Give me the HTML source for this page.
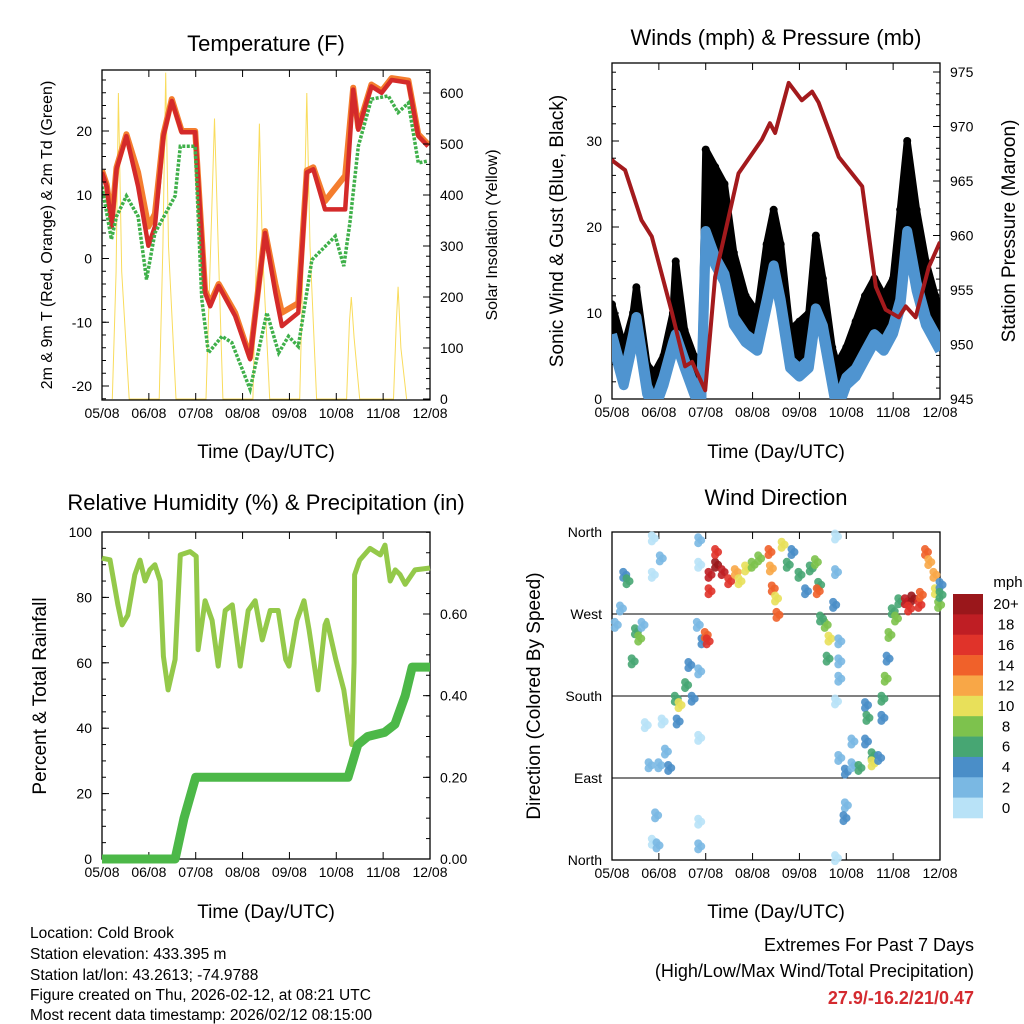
<!DOCTYPE html>
<html><head><meta charset="utf-8"><style>
body{margin:0;background:#fff;}
svg{display:block;font-family:"Liberation Sans",Arial,sans-serif;}
</style></head><body>
<svg id="s" width="1024" height="1024" viewBox="0 0 1024 1024" xmlns="http://www.w3.org/2000/svg">
<defs>
<clipPath id="c1"><rect x="102" y="70" width="328" height="330"/></clipPath>
<clipPath id="c2"><rect x="612" y="63" width="328" height="336"/></clipPath>
<clipPath id="c3"><rect x="102" y="532" width="328" height="327"/></clipPath>
</defs>
<rect width="1024" height="1024" fill="#fff"/>
<g id="p1"></g>
<g id="p2"></g>
<g id="p3"></g>
<g id="p4"></g>
<g font-size="15.5" fill="#000">
<text x="30" y="938">Location: Cold Brook</text>
<text x="30" y="959">Station elevation: 433.395 m</text>
<text x="30" y="980">Station lat/lon: 43.2613; -74.9788</text>
<text x="30" y="1000">Figure created on Thu, 2026-02-12, at 08:21 UTC</text>
<text x="30" y="1020">Most recent data timestamp: 2026/02/12 08:15:00</text>
</g>
<g text-anchor="end">
<text x="974" y="951" font-size="18">Extremes For Past 7 Days</text>
<text x="974" y="977" font-size="18">(High/Low/Max Wind/Total Precipitation)</text>
<text x="974" y="1004" font-size="18" font-weight="bold" fill="#d42a2f">27.9/-16.2/21/0.47</text>
</g>
</svg>
<script>
// ---------- DATA ----------
const dayLabels=["05/08","06/08","07/08","08/08","09/08","10/08","11/08","12/08"];
const tempT=[0,0.1,0.21,0.31,0.52,0.77,0.99,1.13,1.31,1.49,1.7,1.99,2.2,2.31,2.49,2.84,3.16,3.48,3.7,3.84,4.19,4.37,4.51,4.76,5.19,5.36,5.47,5.75,5.97,6.18,6.54,6.75,6.96];
const tempRed=[13.5,11.3,5,14,19.2,11.3,2,5,19.2,24.7,19.8,19.8,-5.4,-7.5,-4.3,-9,-15.8,4,-5.4,-10.6,-8.5,13.5,14,7.7,7.7,26.5,20.2,27,26,28,27.6,19.2,17.6];
const tempOrange=[13.8,11.6,6,14.3,19.5,13.5,5,7,19.5,25,20,20,-5,-7,-4,-8.5,-15.5,4.3,-4,-8.5,-7,13.8,14.3,9,13,26.8,20.5,27.3,26.3,28.3,27.9,19.5,17.9];
const dewT=[0,0.2,0.31,0.52,0.77,0.95,1.13,1.56,1.67,1.99,2.13,2.27,2.56,2.77,3.16,3.52,3.77,3.98,4.19,4.48,4.98,5.16,5.29,5.47,5.75,6.11,6.32,6.54,6.75,6.96];
const dewVal=[11.3,3,6.6,9.8,6.6,-3.3,4,9.8,17.6,17.6,-6.4,-14.8,-12.2,-13.2,-20.5,-8.5,-14.8,-12.2,-13.8,-0.2,3.5,-1.2,5.6,17.6,25,25.5,22.9,24.4,15,15.3];
const solarT=[0.22,0.3,0.35,0.42,0.58, 1.22,1.3,1.36,1.42,1.58, 2.22,2.32,2.4,2.48,2.58, 3.22,3.3,3.36,3.42,3.58, 4.22,4.3,4.37,4.44,4.58, 5.22,5.28,5.32,5.38,5.5, 6.22,6.28,6.32,6.38,6.5];
const solarV=[0,250,600,250,0, 0,300,640,300,0, 0,300,550,300,0, 0,300,540,300,0, 0,300,600,300,0, 0,150,200,120,0, 0,150,220,100,0];
const windT=[0,0.25,0.45,0.52,0.75,0.9,1.1,1.3,1.36,1.55,1.75,1.9,2.0,2.2,2.4,2.6,2.85,3.1,3.3,3.45,3.6,3.8,4.0,4.2,4.35,4.5,4.7,4.8,5.0,5.2,5.4,5.6,5.8,6.0,6.15,6.3,6.5,6.7,6.9,7.0];
const windSpd=[8,3,8,10,2,0,3,7,8,5,2,0,20,17,15,10,8,7,12,16,12,5,4,5,11,9,3,0,3,4,6,8,7,9,12,20,14,10,8,7];
const gustSpd=[11,6,10,13,4,3,5,10,16,8,5,1,29,27,25,17,12,10,18,22,18,8,9,10,19,14,6,4,6,9,12,14,12,14,22,30,22,16,12,10];
const presT=[0,0.03,0.28,0.63,0.85,1.28,1.56,1.71,1.99,2.2,2.7,3.2,3.37,3.48,3.77,4.05,4.27,4.41,4.84,5.34,5.63,5.84,6.12,6.27,6.48,6.76,7.0];
const presVal=[967,966.8,966,961.4,959.9,952.9,948,948.4,945.8,956.2,965.7,968.8,970.3,969.4,974,972.4,973.2,972.2,967.2,964.5,955.3,953.2,952.5,953.5,952.5,957.1,959.4];
const rhT=[0,0.17,0.34,0.43,0.55,0.7,0.81,0.92,1.02,1.13,1.24,1.31,1.41,1.56,1.67,1.88,2.01,2.05,2.2,2.35,2.48,2.63,2.78,2.95,3.12,3.27,3.42,3.59,3.76,3.92,3.99,4.16,4.31,4.42,4.61,4.76,4.8,4.99,5.16,5.33,5.38,5.39,5.5,5.72,5.94,6.04,6.15,6.26,6.36,6.47,6.68,7.0];
const rhVal=[92,91.5,77.7,71.6,74.6,86.9,91.4,85,88.4,90,85,62,51.7,61,93,94,92.6,64,79,73,59,76,77.7,59,76,79,67,76,76,61,59,73,79,70,51.7,71.6,73,61,51.7,35,60,86.9,91.4,95,93,96,85,88.4,87,84,88.4,89];
const rainT=[0,1.56,1.75,2.0,5.25,5.33,5.46,5.67,6.03,6.25,6.47,6.62,7.0];
const rainVal=[0,0,0.1,0.2,0.2,0.23,0.28,0.3,0.31,0.33,0.4,0.47,0.47];
const dirT=[0.06,0.17,0.24,0.31,0.49,0.56,0.42,0.63,0.85,1.02,0.85,0.78,0.99,1.2,0.92,0.85,0.95,0.7,1.06,1.13,1.34,1.42,1.56,1.7,1.63,1.84,1.38,1.91,1.98,2.02,1.81,1.84,1.84,1.84,1.84,1.84,2.06,2.2,2.34,2.48,2.06,2.2,2.62,2.7,2.84,2.98,3.12,3.34,3.37,3.41,3.48,3.51,3.62,3.73,3.83,3.98,4.12,4.22,4.33,4.4,4.37,4.76,4.76,4.72,4.54,4.62,4.58,4.44,4.83,4.83,4.83,4.76,4.83,4.97,5.11,5.26,4.97,4.94,5.11,4.76,5.4,5.43,5.4,5.54,5.54,5.68,5.75,5.75,5.82,5.86,5.9,5.97,6.11,6.04,6.25,6.39,6.54,6.32,6.57,6.68,6.75,6.86,6.89,6.96,6.99,6.99];
const dirDeg=[258,276,313,306,251,243,218,258,353,331,313,104,104,101,49,20,16,148,152,119,177,170,192,177,214,207,152,240,247,240,258,351,324,42,15,134,313,324,316,306,295,338,316,306,320,324,331,338,320,298,287,269,346,324,338,313,295,320,327,302,295,355,316,280,258,243,221,265,240,218,199,174,112,97,104,101,60,46,130,2,170,156,130,115,106,112,156,177,199,221,247,273,284,265,284,287,280,276,291,338,327,313,295,280,302,291];
const dirSpd=[3,3,4,6,7,8,7,3,1,2,1,2,3,5,2,1,2,1,1,3,7,10,6,4,5,3,4,4,14,17,2,3,1,1,2,1,18,20,18,17,17,16,12,10,11,9,8,14,13,15,10,14,10,7,5,6,5,6,8,7,15,1,2,4,9,10,7,7,2,2,2,1,2,4,3,7,2,4,2,1,5,7,4,7,10,4,4,7,9,4,8,7,7,8,18,20,16,17,14,14,12,13,10,8,5,7];
const cbColors=["#9a171b","#bf1e24","#e0332a","#f0612a","#f8a747","#e8e05a","#7dc24d","#47a673","#4a8ec8","#7ab8e3","#b8e2f7"];
const cbLabels=["20+","18","16","14","12","10","8","6","4","2","0"];

// ---------- HELPERS ----------
const NS="http://www.w3.org/2000/svg";
function mk(parent,tag,attrs,txt){const e=document.createElementNS(NS,tag);for(const k in attrs)e.setAttribute(k,attrs[k]);if(txt!==undefined)e.textContent=txt;parent.appendChild(e);return e;}
function lin(d0,d1,r0,r1){return v=>r0+(v-d0)/(d1-d0)*(r1-r0);}
function pts(xs,ys,fx,fy){return xs.map((t,i)=>fx(t).toFixed(1)+","+fy(ys[i]).toFixed(1)).join(" ");}

function frame(g,L,R,T,B,fx,yTicks,fy,yLabels,rTicks,fr,rLabels,minorL,minorR,grid){
  if(grid){yTicks.forEach(v=>{const l=mk(g,"line",{x1:L,x2:R,y1:fy(v),y2:fy(v),stroke:"#000","stroke-width":1});
  
  });}
  const ax=mk(g,"rect",{x:L,y:T,width:R-L,height:B-T,fill:"none",stroke:"#000","stroke-width":1.3});
  
  
  dayLabels.forEach((lab,i)=>{const x=fx(i);
    mk(g,"line",{x1:x,x2:x,y1:B,y2:B-7,stroke:"#000"});mk(g,"line",{x1:x,x2:x,y1:T,y2:T+7,stroke:"#000"});
    const t=mk(g,"text",{x:x,y:B+18,"font-size":14,"text-anchor":"middle"},lab);
    
    });
  yTicks.forEach((v,i)=>{const y=fy(v);mk(g,"line",{x1:L,x2:L+7,y1:y,y2:y,stroke:"#000"});
    const t=mk(g,"text",{x:L-10,y:y+5,"font-size":14,"text-anchor":"end"},yLabels[i]);
    
    });
  minorL.forEach(v=>mk(g,"line",{x1:L,x2:L+4,y1:fy(v),y2:fy(v),stroke:"#000"}));
  if(rTicks){rTicks.forEach((v,i)=>{const y=fr(v);mk(g,"line",{x1:R,x2:R-7,y1:y,y2:y,stroke:"#000"});
    const t=mk(g,"text",{x:R+10,y:y+5,"font-size":14},rLabels[i]);
    
    });
    minorR.forEach(v=>mk(g,"line",{x1:R,x2:R-4,y1:fr(v),y2:fr(v),stroke:"#000"}));}
}
function txt(g,x,y,s,size,name,rot){const t=mk(g,"text",{x:x,y:y,"font-size":size,"text-anchor":"middle"},s);
  if(rot)t.setAttribute("transform","rotate(-90 "+x+" "+y+")");
  
  return t;}
function range(a,b,s){const r=[];for(let v=a;v<=b+1e-9;v+=s)r.push(+v.toFixed(3));return r;}

// ---------- PANEL 1 ----------
(function(){const g=document.getElementById("p1");const L=102,R=430,T=70,B=400;
  const fx=lin(0,7,L,R),fy=lin(-20,20,386,131),fs=lin(0,600,399,93);
  const cg=mk(g,"g",{"clip-path":"url(#c1)"});
  mk(cg,"polyline",{points:pts(solarT,solarV,fx,fs),fill:"none",stroke:"#f9dc5c","stroke-width":1});
  frame(g,L,R,T,B,fx,[-20,-10,0,10,20],fy,["-20","-10","0","10","20"],[0,100,200,300,400,500,600],fs,["0","100","200","300","400","500","600"],range(-22,28,2),range(0,640,20),null,true);
  const o=mk(cg,"polyline",{points:pts(tempT,tempOrange,fx,fy),fill:"none",stroke:"#f47d2e","stroke-width":6,"stroke-linejoin":"round"});
  
  
  const r=mk(cg,"polyline",{points:pts(tempT,tempRed,fx,fy),fill:"none",stroke:"#d42a2a","stroke-width":4.5,"stroke-linejoin":"round"});
  
  
  const d=mk(cg,"polyline",{points:pts(dewT,dewVal,fx,fy),fill:"none",stroke:"#3fb04a","stroke-width":3.5,"stroke-dasharray":"3 1.5"});
  
  
  txt(g,266,51,"Temperature (F)",22,"temperature-title");
  txt(g,266,458,"Time (Day/UTC)",19,"x-axis-title");
  txt(g,52,235,"2m & 9m T (Red, Orange) & 2m Td (Green)",16,"y-axis-title",true);
  txt(g,497,235,"Solar Insolation (Yellow)",16,"right-axis-title",true);
})();

// ---------- PANEL 2 ----------
(function(){const g=document.getElementById("p2");const L=612,R=940,T=63,B=399;
  const fx=lin(0,7,L,R),fy=lin(0,30,399,141),fp=lin(945,975,399,72);
  frame(g,L,R,T,B,fx,[0,10,20,30],fy,["0","10","20","30"],[945,950,955,960,965,970,975],fp,["945","950","955","960","965","970","975"],range(0,38,2),range(945,975,1),null,true);
  const cg=mk(g,"g",{"clip-path":"url(#c2)"});
  const top=windT.map((t,i)=>fx(t).toFixed(1)+","+fy(gustSpd[i]).toFixed(1));
  const bot=windT.map((t,i)=>fx(t).toFixed(1)+","+fy(windSpd[i]).toFixed(1)).reverse();
  const gb=mk(cg,"polygon",{points:top.concat(bot).join(" "),fill:"#000",stroke:"#000","stroke-width":7,"stroke-linejoin":"round"});
  
  
  windT.forEach((t,i)=>{const c=mk(cg,"circle",{cx:fx(t),cy:fy(gustSpd[i]),r:4,fill:"#000"});
    
    });
  const w=mk(cg,"polyline",{points:pts(windT,windSpd,fx,fy),fill:"none",stroke:"#4f94d0","stroke-width":10,"stroke-linejoin":"round",transform:"translate(0,12)"});
  
  
  const w2=mk(cg,"polyline",{points:pts(windT,windSpd,fx,fy),fill:"none",stroke:"#4f94d0","stroke-width":10,"stroke-linejoin":"round",transform:"translate(0,4)"});
  
  
  const p=mk(cg,"polyline",{points:pts(presT,presVal,fx,fp),fill:"none",stroke:"#a31a1d","stroke-width":4,"stroke-linejoin":"round"});
  
  
  txt(g,776,45,"Winds (mph) & Pressure (mb)",22,"winds-title");
  txt(g,776,458,"Time (Day/UTC)",19,"x-axis-title");
  txt(g,563,231,"Sonic Wind & Gust (Blue, Black)",19,"y-axis-title",true);
  txt(g,1015,231,"Station Pressure (Maroon)",19,"right-axis-title",true);
})();

// ---------- PANEL 3 ----------
(function(){const g=document.getElementById("p3");const L=102,R=430,T=532,B=859;
  const fx=lin(0,7,L,R),fy=lin(0,100,859,532),fr=lin(0,0.6,859,614);
  frame(g,L,R,T,B,fx,[0,20,40,60,80,100],fy,["0","20","40","60","80","100"],[0,0.2,0.4,0.6],fr,["0.00","0.20","0.40","0.60"],range(0,100,5),range(0,0.8,0.05),null,true);
  const rh=mk(g,"polyline",{points:pts(rhT,rhVal,fx,fy),fill:"none",stroke:"#94c94a","stroke-width":5,"stroke-linejoin":"round"});
  
  
  const rn=mk(g,"polyline",{points:pts(rainT,rainVal,fx,fr),fill:"none",stroke:"#4cb848","stroke-width":9,"stroke-linejoin":"round"});
  
  
  txt(g,266,510,"Relative Humidity (%) & Precipitation (in)",22,"humidity-title");
  txt(g,266,918,"Time (Day/UTC)",19,"x-axis-title");
  txt(g,46,696,"Percent & Total Rainfall",19,"y-axis-title",true);
})();

// ---------- PANEL 4 ----------
(function(){const g=document.getElementById("p4");const L=612,R=940,T=532,B=860;
  const fx=lin(0,7,L,R),fy=lin(0,360,860,532);
  frame(g,L,R,T,B,fx,[0,90,180,270,360],fy,["North","East","South","West","North"],null,null,null,[],[],true);
  dirT.forEach((t,i)=>{const c=cbColors[10-Math.min(10,Math.floor(dirSpd[i]/2))];
    const x=fx(t),y=fy(dirDeg[i]);
    [[0,-3],[0,3],[3,0]].forEach(o=>{const e=mk(g,"circle",{cx:x+o[0],cy:y+o[1],r:4,fill:c,"fill-opacity":0.9});
      
      });});
  txt(g,776,505,"Wind Direction",22,"wind-direction-title");
  txt(g,776,918,"Time (Day/UTC)",19,"x-axis-title");
  txt(g,540,696,"Direction (Colored By Speed)",19,"y-axis-title",true);
  const cb=mk(g,"g",{});
  
  
  const h=(818-594)/11;
  cbColors.forEach((c,i)=>{const r=mk(cb,"rect",{x:953,y:594+i*h,width:30,height:h+0.3,fill:c});
    
    
    const t=mk(cb,"text",{x:1006,y:594+i*h+h/2+5,"font-size":15,"text-anchor":"middle"},cbLabels[i]);
    
    });
  txt(cb,1008,587,"mph",15,"colorbar-title");
})();
</script>
</body></html>
